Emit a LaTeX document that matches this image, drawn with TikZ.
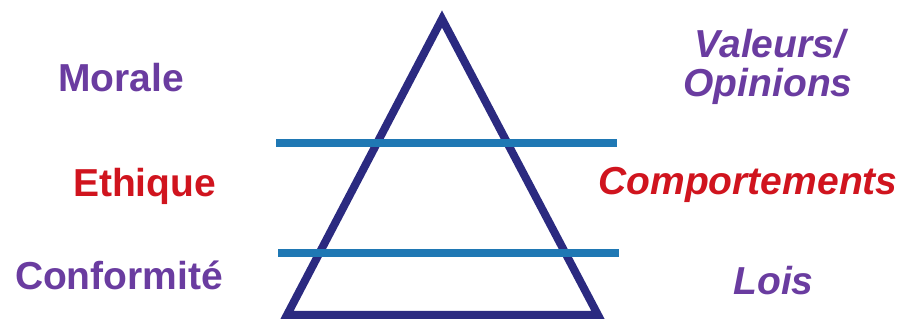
\documentclass[tikz,border=0pt]{standalone}
\usepackage{fontspec}
\setmainfont{Liberation Sans}
\definecolor{navy}{RGB}{43,42,128}
\definecolor{barblue}{RGB}{31,120,180}
\definecolor{lblpurple}{RGB}{106,60,160}
\definecolor{lblred}{RGB}{208,20,30}
\tikzset{
  lbl/.style={anchor=base, inner sep=0pt, font=\fontsize{39}{40}\selectfont\bfseries},
  lblit/.style={lbl, font=\fontsize{39}{40}\selectfont\bfseries\itshape},
  tri/.style={draw=navy, line width=8pt, line join=miter},
  bar/.style={draw=barblue, line width=8.5pt}
}
\begin{document}
\begin{tikzpicture}[x=1pt, y=-1pt]
\useasboundingbox (0,0) rectangle (905,320);
\coordinate (apex) at (442,19);
\coordinate (bl) at (287,315);
\coordinate (br) at (598,315);
\draw[tri] (apex) -- (br) -- (bl) -- cycle;
\coordinate (b1l) at (276,143);
\coordinate (b1r) at (617,143);
\coordinate (b2l) at (278,253);
\coordinate (b2r) at (619,253);
\draw[bar] (b1l) -- (b1r);
\draw[bar] (b2l) -- (b2r);
\node[lbl, text=lblpurple] (morale) at (121,92) {Morale};
\node[lbl, text=lblred] (ethique) at (144.5,197) {Ethique};
\node[lbl, text=lblpurple] (conf) at (119,290) {Conformité};
\node[lblit, text=lblpurple] (valeurs) at (770,58) {Valeurs/};
\node[lblit, text=lblpurple] (opinions) at (768,97) {Opinions};
\node[lblit, text=lblred] (comp) at (748,195) {Comportements};
\node[lblit, text=lblpurple] (lois) at (773.5,295) {Lois};
\end{tikzpicture}
\end{document}
